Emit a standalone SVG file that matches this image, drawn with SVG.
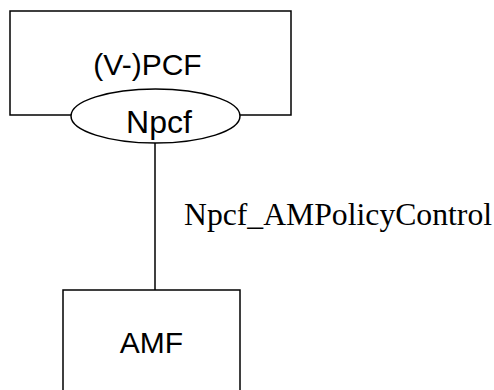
<svg xmlns="http://www.w3.org/2000/svg" width="494" height="390" viewBox="0 0 494 390">
<style>
.box{fill:#fff;stroke:#000;stroke-width:1.5}
.sans{font-family:"Liberation Sans",Arial,sans-serif;fill:#000}
.serif{font-family:"Liberation Serif","Times New Roman",serif;fill:#000}
.conn{stroke:#000;stroke-width:1.5;fill:none}
</style>
<rect width="494" height="390" fill="#fff"/>
<g id="connectors">
<line class="conn" x1="155" y1="143" x2="155" y2="290"/>
<text class="serif" x="184" y="225" font-size="31.7">Npcf_AMPolicyControl</text>
</g>
<g id="pcf">
<rect class="box" x="10" y="11" width="281" height="104"/>
<text class="sans" x="147.5" y="75" font-size="30" text-anchor="middle">(V-)PCF</text>
</g>
<g id="npcf">
<ellipse class="box" cx="155.5" cy="116" rx="84.5" ry="27"/>
<text class="sans" x="159" y="133" font-size="32" text-anchor="middle">Npcf</text>
</g>
<g id="amf">
<rect class="box" x="63" y="290" width="177" height="120"/>
<text class="sans" x="151.5" y="353" font-size="30" text-anchor="middle">AMF</text>
</g>
</svg>
